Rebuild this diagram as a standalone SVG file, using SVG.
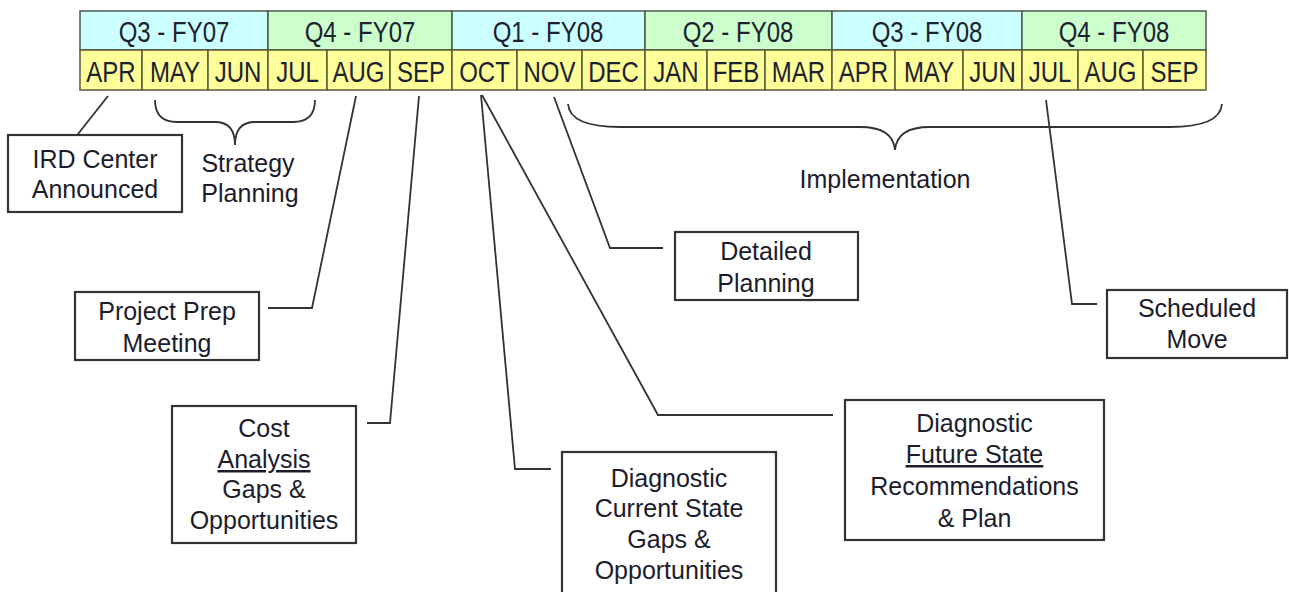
<svg xmlns="http://www.w3.org/2000/svg" width="1289" height="592" viewBox="0 0 1289 592">
<style>
.q1{fill:#ccffff;stroke:#4d5a4a;stroke-width:1.5}
.q2{fill:#ccffcc;stroke:#4d5a4a;stroke-width:1.5}
.m{fill:#ffff99;stroke:#5a5a3a;stroke-width:1.5}
.ht{font-family:"Liberation Sans",Arial,sans-serif;font-size:24px;fill:#1c2230;text-anchor:middle}
.box{fill:#ffffff;stroke:#333333;stroke-width:2.2}
.t{font-family:"Liberation Sans",Arial,sans-serif;font-size:25px;fill:#1c1c2c;text-anchor:middle}
.u{text-decoration:underline}
.c{fill:none;stroke:#333333;stroke-width:1.8;stroke-linejoin:miter}
</style>
<rect width="1289" height="592" fill="#ffffff"/>
<g id="header">
<rect class="q1" x="80" y="11" width="188" height="39"/>
<rect class="q2" x="268" y="11" width="184" height="39"/>
<rect class="q1" x="452" y="11" width="193" height="39"/>
<rect class="q2" x="645" y="11" width="187" height="39"/>
<rect class="q1" x="832" y="11" width="190" height="39"/>
<rect class="q2" x="1022" y="11" width="184" height="39"/>
<g transform="translate(0,42) scale(1,1.2)">
<text class="ht" x="174" y="0">Q3 - FY07</text>
<text class="ht" x="360" y="0">Q4 - FY07</text>
<text class="ht" x="548" y="0">Q1 - FY08</text>
<text class="ht" x="738" y="0">Q2 - FY08</text>
<text class="ht" x="927" y="0">Q3 - FY08</text>
<text class="ht" x="1114" y="0">Q4 - FY08</text>
</g>
<rect class="m" x="80" y="50" width="62" height="40"/>
<rect class="m" x="142" y="50" width="66" height="40"/>
<rect class="m" x="208" y="50" width="60" height="40"/>
<rect class="m" x="268" y="50" width="59" height="40"/>
<rect class="m" x="327" y="50" width="63" height="40"/>
<rect class="m" x="390" y="50" width="62" height="40"/>
<rect class="m" x="452" y="50" width="65" height="40"/>
<rect class="m" x="517" y="50" width="65" height="40"/>
<rect class="m" x="582" y="50" width="63" height="40"/>
<rect class="m" x="645" y="50" width="62" height="40"/>
<rect class="m" x="707" y="50" width="58" height="40"/>
<rect class="m" x="765" y="50" width="67" height="40"/>
<rect class="m" x="832" y="50" width="63" height="40"/>
<rect class="m" x="895" y="50" width="68" height="40"/>
<rect class="m" x="963" y="50" width="59" height="40"/>
<rect class="m" x="1022" y="50" width="56" height="40"/>
<rect class="m" x="1078" y="50" width="65" height="40"/>
<rect class="m" x="1143" y="50" width="63" height="40"/>
<g transform="translate(0,82) scale(1,1.2)">
<text class="ht" x="111" y="0">APR</text>
<text class="ht" x="175" y="0">MAY</text>
<text class="ht" x="238" y="0">JUN</text>
<text class="ht" x="297.5" y="0">JUL</text>
<text class="ht" x="358.5" y="0">AUG</text>
<text class="ht" x="421" y="0">SEP</text>
<text class="ht" x="484.5" y="0">OCT</text>
<text class="ht" x="549.5" y="0">NOV</text>
<text class="ht" x="613.5" y="0">DEC</text>
<text class="ht" x="676" y="0">JAN</text>
<text class="ht" x="736" y="0">FEB</text>
<text class="ht" x="798.5" y="0">MAR</text>
<text class="ht" x="863.5" y="0">APR</text>
<text class="ht" x="929" y="0">MAY</text>
<text class="ht" x="992.5" y="0">JUN</text>
<text class="ht" x="1050" y="0">JUL</text>
<text class="ht" x="1110.5" y="0">AUG</text>
<text class="ht" x="1174.5" y="0">SEP</text>
</g>
</g>
<g id="connectors">
<path class="c" d="M78,134 L108,96"/>
<path class="c" d="M268,308 L312,308 L356,96"/>
<path class="c" d="M367,423 L390,423 L419,96"/>
<path class="c" d="M481,95 L515,469 L551,469"/>
<path class="c" d="M482,95 L658,415 L833,415"/>
<path class="c" d="M554,97 L610,248 L663,248"/>
<path class="c" d="M1046,100 L1072,304 L1097,304"/>
<path class="c" d="M155,100 Q155,122 177,122 L215,122 Q235,122 235,145 Q235,122 255,122 L293,122 Q315,122 315,100"/>
<path class="c" d="M568,104 Q570,127 620,127 L860,127 Q893,127 895,150 Q897,127 930,127 L1170,127 Q1220,127 1222,104"/>
</g>
<g id="strategy-planning">
<text class="t" x="248" y="172">Strategy</text>
<text class="t" x="250" y="202">Planning</text>
</g>
<g id="implementation">
<text class="t" x="885" y="188">Implementation</text>
</g>
<g id="ird-center">
<rect class="box" x="8" y="135" width="174" height="77"/>
<text class="t" x="95" y="168">IRD Center</text>
<text class="t" x="95" y="198">Announced</text>
</g>
<g id="project-prep">
<rect class="box" x="75" y="292" width="184" height="68"/>
<text class="t" x="167" y="320">Project Prep</text>
<text class="t" x="167" y="352">Meeting</text>
</g>
<g id="cost-analysis">
<rect class="box" x="172" y="406" width="184" height="137"/>
<text class="t" x="264" y="437">Cost</text>
<text class="t u" x="264" y="468">Analysis</text>
<text class="t" x="264" y="498">Gaps &amp;</text>
<text class="t" x="264" y="529">Opportunities</text>
</g>
<g id="detailed-planning">
<rect class="box" x="675" y="232" width="183" height="68"/>
<text class="t" x="766" y="260">Detailed</text>
<text class="t" x="766" y="292">Planning</text>
</g>
<g id="current-state">
<rect class="box" x="562" y="452" width="214" height="150"/>
<text class="t" x="669" y="487">Diagnostic</text>
<text class="t" x="669" y="517">Current State</text>
<text class="t" x="669" y="548">Gaps &amp;</text>
<text class="t" x="669" y="579">Opportunities</text>
</g>
<g id="future-state">
<rect class="box" x="845" y="400" width="259" height="140"/>
<text class="t" x="974.5" y="432">Diagnostic</text>
<text class="t u" x="974.5" y="463">Future State</text>
<text class="t" x="974.5" y="495">Recommendations</text>
<text class="t" x="974.5" y="527">&amp; Plan</text>
</g>
<g id="scheduled-move">
<rect class="box" x="1107" y="290" width="180" height="68"/>
<text class="t" x="1197" y="317">Scheduled</text>
<text class="t" x="1197" y="348">Move</text>
</g>
</svg>
